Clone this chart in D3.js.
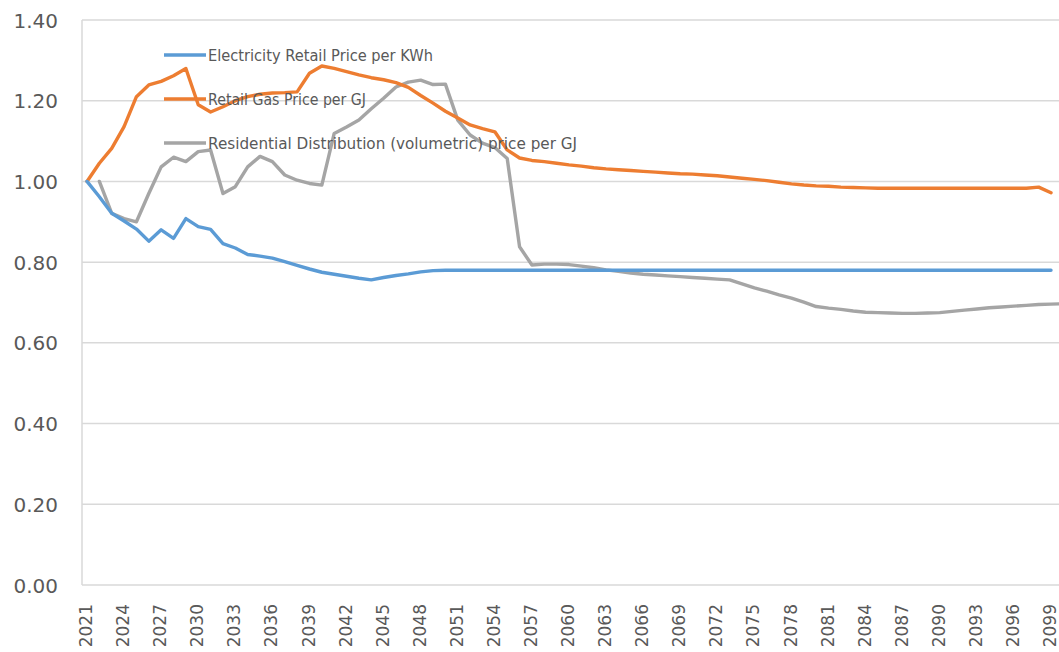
<!DOCTYPE html>
<html>
<head>
<meta charset="utf-8">
<script src="https://cdn.jsdelivr.net/npm/d3@7"></script>
<style>
  html, body { margin: 0; padding: 0; background: #fff; }
  svg { display: block; }
</style>
</head>
<body>
<svg id="chart" width="1059" height="652"></svg>
<script>
// Price index series (2021 = 1.00)
const electricityYears = d3.range(2021, 2100);
const electricity = [
  1.000, 0.962, 0.921, 0.902, 0.882, 0.852, 0.880, 0.859, 0.908, 0.888,
  0.881, 0.846, 0.835, 0.819, 0.815, 0.810, 0.801, 0.792, 0.783, 0.775,
  0.770, 0.765, 0.760, 0.756, 0.762, 0.767, 0.771, 0.776, 0.779, 0.780,
  0.780, 0.780, 0.780, 0.780, 0.780, 0.780, 0.780, 0.780, 0.780, 0.780,
  0.780, 0.780, 0.780, 0.780, 0.780, 0.780, 0.780, 0.780, 0.780, 0.780,
  0.780, 0.780, 0.780, 0.780, 0.780, 0.780, 0.780, 0.780, 0.780, 0.780,
  0.780, 0.780, 0.780, 0.780, 0.780, 0.780, 0.780, 0.780, 0.780, 0.780,
  0.780, 0.780, 0.780, 0.780, 0.780, 0.780, 0.780, 0.780, 0.780
];

const gasYears = d3.range(2021, 2100);
const gas = [
  1.000, 1.045, 1.082, 1.136, 1.210, 1.239, 1.248, 1.262, 1.280, 1.190,
  1.172, 1.185, 1.200, 1.210, 1.216, 1.219, 1.220, 1.222, 1.268, 1.286,
  1.280, 1.272, 1.264, 1.257, 1.252, 1.245, 1.233, 1.213, 1.194, 1.174,
  1.157, 1.140, 1.131, 1.123, 1.078, 1.058, 1.052, 1.049, 1.045, 1.041,
  1.038, 1.034, 1.031, 1.029, 1.027, 1.025, 1.023, 1.021, 1.019, 1.018,
  1.016, 1.014, 1.011, 1.008, 1.005, 1.002, 0.998, 0.994, 0.991, 0.989,
  0.988, 0.986, 0.985, 0.984, 0.983, 0.983, 0.983, 0.983, 0.983, 0.983,
  0.983, 0.983, 0.983, 0.983, 0.983, 0.983, 0.983, 0.986, 0.972
];

const distributionYears = d3.range(2022, 2101);
const distribution = [
  1.000, 0.921, 0.908, 0.900, 0.970, 1.036, 1.060, 1.049, 1.074, 1.078,
  0.970, 0.987, 1.036, 1.062, 1.049, 1.016, 1.003, 0.995, 0.991, 1.119,
  1.135, 1.152, 1.180, 1.206, 1.234, 1.246, 1.251, 1.240, 1.241, 1.152,
  1.115, 1.095, 1.084, 1.057, 0.838, 0.793, 0.795, 0.795, 0.794, 0.790,
  0.786, 0.781, 0.777, 0.773, 0.770, 0.768, 0.766, 0.764, 0.762, 0.760,
  0.758, 0.756, 0.746, 0.736, 0.728, 0.719, 0.711, 0.701, 0.690, 0.686,
  0.683, 0.679, 0.676, 0.675, 0.674, 0.673, 0.673, 0.674, 0.675, 0.678,
  0.681, 0.684, 0.687, 0.689, 0.691, 0.693, 0.695, 0.696, 0.697
];

const seriesNames = [
  "Electricity Retail Price per KWh",
  "Retail Gas Price per GJ",
  "Residential Distribution (volumetric) price per GJ"
];

const xTickLabels = [
  "2021", "2024", "2027", "2030", "2033", "2036", "2039", "2042", "2045",
  "2048", "2051", "2054", "2057", "2060", "2063", "2066", "2069", "2072",
  "2075", "2078", "2081", "2084", "2087", "2090", "2093", "2096", "2099"
];
const yTickValues = [0, 0.2, 0.4, 0.6, 0.8, 1.0, 1.2, 1.4];

// Layout
const svg = d3.select("#chart");
const W = 1059, H = 652;
const plotLeft = 82, plotRight = 1059, plotTop = 20, plotBottom = 585;
const textColor = "#595959";
const gridColor = "#d9d9d9";
const colors = ["#5b9bd5", "#ed7d31", "#a5a5a5"];

const x = d3.scaleLinear().domain([2021, 2099]).range([87, 1051]);
const y = d3.scaleLinear().domain([0, 1.4]).range([plotBottom, plotTop]);

// Horizontal gridlines
svg.append("g")
  .selectAll("line")
  .data(yTickValues)
  .join("line")
  .attr("x1", plotLeft).attr("x2", plotRight)
  .attr("y1", d => y(d)).attr("y2", d => y(d))
  .attr("stroke", gridColor)
  .attr("stroke-width", 1.5);

// Vertical axis line
svg.append("line")
  .attr("x1", plotLeft).attr("x2", plotLeft)
  .attr("y1", plotTop).attr("y2", plotBottom)
  .attr("stroke", gridColor).attr("stroke-width", 1.5);

// Y axis labels
const yAxis = d3.axisLeft(y)
  .tickValues(yTickValues)
  .tickFormat(d3.format(".2f"))
  .tickSize(0)
  .tickPadding(0);
const yg = svg.append("g")
  .attr("transform", `translate(58,0)`)
  .call(yAxis);
yg.select(".domain").remove();
yg.selectAll("text")
  .attr("fill", textColor)
  .attr("font-family", "'DejaVu Sans', Verdana, sans-serif")
  .attr("font-size", 20)
  .attr("dy", "0.35em");

// X axis labels (rotated)
const xg = svg.append("g");
xg.selectAll("text")
  .data(xTickLabels)
  .join("text")
  .attr("transform", d => `translate(${x(+d)},604) rotate(-90)`)
  .attr("text-anchor", "end")
  .attr("dy", "0.3em")
  .attr("fill", textColor)
  .attr("font-family", "'DejaVu Sans', Verdana, sans-serif")
  .attr("font-size", 17)
  .text(d => d);

// Series lines
svg.append("clipPath").attr("id", "plot-clip")
  .append("rect").attr("x", 0).attr("y", 0).attr("width", W).attr("height", H);

const series = [
  { years: electricityYears, values: electricity },
  { years: gasYears, values: gas },
  { years: distributionYears, values: distribution }
];

const line = d3.line()
  .x(d => x(d[0]))
  .y(d => y(d[1]));

// Distribution drawn first, then gas, then electricity on top
const drawOrder = [2, 1, 0];
const linesG = svg.append("g").attr("clip-path", "url(#plot-clip)");
drawOrder.forEach(i => {
  const s = series[i];
  linesG.append("path")
    .datum(s.years.map((yr, k) => [yr, s.values[k]]))
    .attr("d", line)
    .attr("fill", "none")
    .attr("stroke", colors[i])
    .attr("stroke-width", 3.4)
    .attr("stroke-linejoin", "round")
    .attr("stroke-linecap", "round");
});

// Legend
const legendRows = [55, 99, 143];
const legendWidths = [225, 158, 369];
const legend = svg.append("g");
seriesNames.forEach((name, i) => {
  legend.append("line")
    .attr("x1", 164).attr("x2", 206)
    .attr("y1", legendRows[i]).attr("y2", legendRows[i])
    .attr("stroke", colors[i])
    .attr("stroke-width", 3.4);
  legend.append("text")
    .attr("x", 208)
    .attr("y", legendRows[i])
    .attr("dy", "0.36em")
    .attr("fill", textColor)
    .attr("font-family", "'DejaVu Sans', Verdana, sans-serif")
    .attr("font-size", 16)
    .attr("textLength", legendWidths[i])
    .attr("lengthAdjust", "spacingAndGlyphs")
    .text(name);
});
</script>
</body>
</html>
